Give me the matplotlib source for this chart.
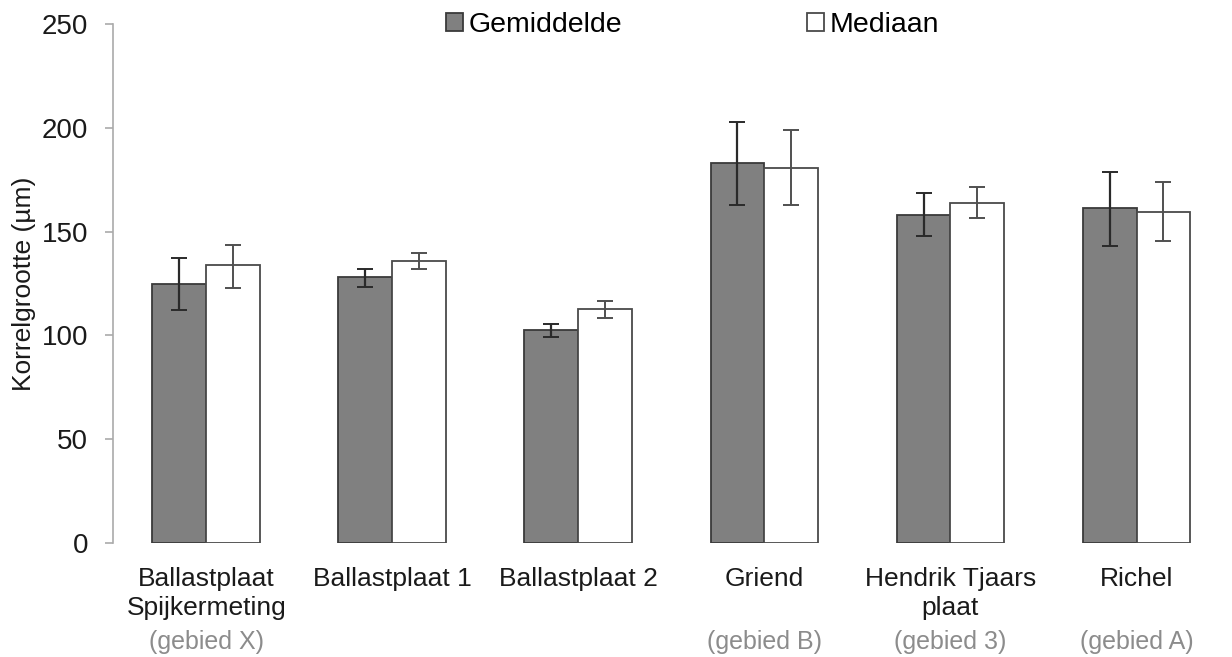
import numpy as np
import matplotlib
matplotlib.use("Agg")
import matplotlib.pyplot as plt

# korrelgrootte per locatie (µm)
locaties = ["Ballastplaat\nSpijkermeting", "Ballastplaat 1", "Ballastplaat 2",
            "Griend", "Hendrik Tjaars\nplaat", "Richel"]
gebieden = ["(gebied X)", "", "", "(gebied B)", "(gebied 3)", "(gebied A)"]

gemiddelde = [124.7, 128.2, 102.4, 183.2, 158.1, 161.4]
gem_boven = [137.3, 132.1, 105.5, 202.7, 168.6, 178.9]
gem_onder = [112.0, 123.5, 99.1, 162.8, 148.0, 143.3]

mediaan = [133.9, 135.9, 112.7, 180.8, 164.0, 159.5]
med_boven = [143.5, 139.7, 116.7, 198.9, 171.4, 173.8]
med_onder = [123.0, 131.8, 108.2, 162.8, 156.4, 145.4]

yticks = [0, 50, 100, 150, 200, 250]

gem = np.array(gemiddelde)
med = np.array(mediaan)
gem_err = [gem - np.array(gem_onder), np.array(gem_boven) - gem]
med_err = [med - np.array(med_onder), np.array(med_boven) - med]

plt.rcParams["font.family"] = ["Liberation Sans", "DejaVu Sans"]

fig = plt.figure(figsize=(12.32, 6.57), dpi=100)
ax = fig.add_axes([0.092, 0.1735, 0.906, 0.79])

x = np.arange(len(locaties))
b = 0.29

ax.bar(x - b / 2, gem, b, color="#808080", edgecolor="#3a3a3a",
       linewidth=1.3, label="Gemiddelde", zorder=2)
ax.bar(x + b / 2, med, b, color="white", edgecolor="#4a4a4a",
       linewidth=1.3, label="Mediaan", zorder=2)
ax.errorbar(x - b / 2, gem, yerr=gem_err, fmt="none", ecolor="#2a2a2a",
            elinewidth=1.6, capsize=6, capthick=1.4, zorder=3)
ax.errorbar(x + b / 2, med, yerr=med_err, fmt="none", ecolor="#505050",
            elinewidth=1.4, capsize=6, capthick=1.4, zorder=3)

ax.set_xlim(-0.5, len(locaties) - 0.5)
ax.set_ylim(0, 250)
ax.set_yticks(yticks)
ax.tick_params(axis="y", labelsize=20, length=6, color="#aaaaaa",
               width=1.2, pad=12, labelcolor="#1a1a1a")
ax.set_ylabel("Korrelgrootte (µm)", fontsize=19, labelpad=4, color="#1a1a1a")

ax.set_xticks(x)
ax.set_xticklabels(locaties, fontsize=19, color="#1a1a1a", linespacing=1.3)
ax.tick_params(axis="x", length=0, pad=17)

for i, g in enumerate(gebieden):
    if g:
        ax.annotate(g, xy=(x[i], 0), xycoords=("data", "axes fraction"),
                    xytext=(0, -71), textcoords="offset points",
                    ha="center", va="center", fontsize=18,
                    color="#8c8c8c")

for kant in ["top", "right", "bottom"]:
    ax.spines[kant].set_visible(False)
ax.spines["left"].set_color("#aaaaaa")
ax.spines["left"].set_linewidth(1.2)

ax.legend(loc="upper center", bbox_to_anchor=(0.519, 1.045), ncol=2,
          frameon=False, fontsize=20.5, handlelength=0.6, handleheight=0.6,
          handletextpad=0.2, columnspacing=6.5, borderaxespad=0)

fig.savefig("out.png", dpi=100)
